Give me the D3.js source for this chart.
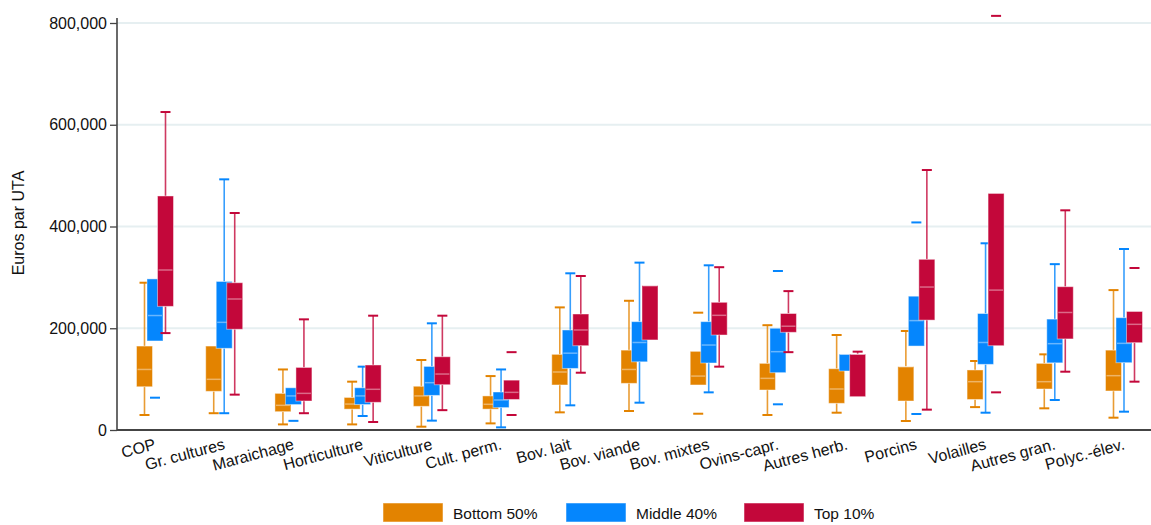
<!DOCTYPE html>
<html>
<head>
<meta charset="utf-8">
<script src="https://cdn.jsdelivr.net/npm/d3@7/dist/d3.min.js"></script>
<style>
  html, body { margin: 0; padding: 0; background: #fff; }
  svg { display: block; font-family: "Liberation Sans", Arial, sans-serif; }
</style>
</head>
<body>
<svg id="chart" width="1151" height="525"></svg>
<script>
// Farm types (OTEX)
const categories = ["COP", "Gr. cultures", "Maraichage", "Horticulture", "Viticulture",
  "Cult. perm.", "Bov. lait", "Bov. viande", "Bov. mixtes", "Ovins-capr.",
  "Autres herb.", "Porcins", "Volailles", "Autres gran.", "Polyc.-élev."];

const seriesNames = ["Bottom 50%", "Middle 40%", "Top 10%"];

// Box statistics in thousands of euros per UTA: [lower adjacent, Q1, median, Q3, upper adjacent]
const bottom50 = [
  [29.5, 85, 119, 165, 289.5], [33, 76, 99.6, 165, 165], [11, 36, 48.5, 72, 119],
  [11, 41, 51, 64, 95], [6.5, 46.5, 67, 86, 137.6], [13, 41, 50.5, 67, 106],
  [34.7, 88.5, 114, 148.7, 241], [37.3, 91.7, 119, 157, 254], [88.5, 88.5, 106, 154.6, 154.6],
  [29.5, 78.6, 101.5, 131, 206], [34, 52.4, 80.6, 120.5, 186.7], [17.7, 57, 124.5, 124.5, 194.6],
  [45, 60, 95, 118, 135.6], [42.6, 80.6, 95, 131, 148.7], [24.2, 76.7, 106.8, 157, 275]
];
const middle40 = [
  [175, 175, 225, 297, 297], [33, 160.5, 211.6, 292, 492.7], [50, 50, 67, 83, 83],
  [27.5, 50, 67, 83, 124.5], [18.4, 68, 93, 125, 209.7], [5.2, 44, 59, 74.7, 119],
  [48.5, 121, 151, 196.6, 308], [53.7, 134, 172, 213, 329], [74, 131.7, 167, 213, 323.7],
  [112.7, 112.7, 154, 200, 200], [116, 116, 149, 149, 149], [165, 165, 215, 263, 263],
  [34, 129, 172, 229, 367], [59, 132, 169.7, 218, 326], [36, 132.3, 170.3, 220.8, 355.8]
];
const top10 = [
  [190.5, 243, 314.5, 460, 625], [69.5, 198, 257.5, 289.5, 426.5], [33, 57, 72, 123, 217.5],
  [15.7, 54.4, 80, 127.8, 224.7], [39, 89, 110, 144, 224.7], [60, 60, 74, 98, 98],
  [112.6, 165.7, 196.6, 228, 302.7], [177, 177, 283.7, 283.7, 283.7], [124.5, 186.7, 225.4, 251, 320],
  [153, 192, 204, 229, 273], [65.5, 65.5, 149, 149, 154], [40, 216, 281, 335.5, 511],
  [165.7, 165.7, 275, 465, 465], [114.6, 179, 231, 281.7, 431.8], [95, 171.6, 207.7, 233, 233]
];

// Values outside the adjacent range (thousands of euros)
const bottom50Out = [[], [], [], [], [], [], [], [], [230.6, 32], [], [], [], [], [], []];
const middle40Out = [[63.5], [], [18], [], [], [], [], [], [], [312.5, 50.5], [], [408, 31.5], [], [], []];
const top10Out = [[], [], [], [], [], [153, 29.5], [], [], [], [], [], [], [814, 74], [], [318.4]];

const yTicks = [0, 200000, 400000, 600000, 800000];

const colors = ["#e38300", "#0586fd", "#c3073a"];
const series = [
  { name: seriesNames[0], stats: bottom50, out: bottom50Out, color: colors[0] },
  { name: seriesNames[1], stats: middle40, out: middle40Out, color: colors[1] },
  { name: seriesNames[2], stats: top10, out: top10Out, color: colors[2] }
];

const svg = d3.select("#chart");
const plot = { left: 117, right: 1151, top: 23, bottom: 430 };

const x = d3.scalePoint().domain(categories).range([155, 1124]);
const offset = d3.scalePoint().domain(seriesNames).range([-10.5, 10.5]);
const y = d3.scaleLinear().domain([0, 800000]).range([plot.bottom, plot.top]);
const boxW = 16, capW = 10;

// Horizontal grid
svg.append("g").selectAll("line").data(yTicks.filter(d => d > 0)).join("line")
  .attr("x1", plot.left).attr("x2", plot.right)
  .attr("y1", d => y(d)).attr("y2", d => y(d))
  .attr("stroke", "#e6eff1").attr("stroke-width", 2);

// Y axis
const yAxis = svg.append("g").attr("transform", `translate(${plot.left},0)`)
  .call(d3.axisLeft(y).tickValues(yTicks).tickFormat(d3.format(",")).tickSize(7).tickPadding(3));
yAxis.select(".domain").attr("stroke", "#444").attr("stroke-width", 1.6).attr("d", `M0,${plot.top - 5}V${plot.bottom}`);
yAxis.selectAll(".tick line").attr("stroke", "#444").attr("stroke-width", 1.3);
yAxis.selectAll(".tick text").attr("font-size", 16).attr("fill", "#111")
  .attr("font-family", "'Liberation Sans', Arial, sans-serif");

svg.append("text")
  .attr("transform", `translate(24,223) rotate(-90)`)
  .attr("text-anchor", "middle")
  .attr("font-size", 16).attr("fill", "#111")
  .text("Euros par UTA");

// Boxes
series.forEach(s => {
  const g = svg.append("g");
  const dx = offset(s.name);
  categories.forEach((c, i) => {
    const [lo, q1, med, q3, hi] = s.stats[i];
    const cx = x(c) + dx;
    const wg = g.append("g").attr("stroke", s.color).attr("stroke-width", 1.6);
    if (hi > q3) {
      wg.append("line").attr("x1", cx).attr("x2", cx).attr("y1", y(q3 * 1000)).attr("y2", y(hi * 1000)).attr("stroke-opacity", 0.8);
      wg.append("line").attr("x1", cx - capW / 2).attr("x2", cx + capW / 2).attr("y1", y(hi * 1000)).attr("y2", y(hi * 1000)).attr("stroke-width", 2);
    }
    if (lo < q1) {
      wg.append("line").attr("x1", cx).attr("x2", cx).attr("y1", y(q1 * 1000)).attr("y2", y(lo * 1000)).attr("stroke-opacity", 0.8);
      wg.append("line").attr("x1", cx - capW / 2).attr("x2", cx + capW / 2).attr("y1", y(lo * 1000)).attr("y2", y(lo * 1000)).attr("stroke-width", 2);
    }
    s.out[i].forEach(v => {
      wg.append("line").attr("x1", cx - capW / 2).attr("x2", cx + capW / 2)
        .attr("y1", y(v * 1000)).attr("y2", y(v * 1000)).attr("stroke-width", 2);
    });
    g.append("rect")
      .attr("x", cx - boxW / 2).attr("width", boxW)
      .attr("y", y(q3 * 1000)).attr("height", y(q1 * 1000) - y(q3 * 1000))
      .attr("fill", s.color)
      .attr("stroke", "rgba(255,255,255,0.45)").attr("stroke-width", 1);
    g.append("line")
      .attr("x1", cx - boxW / 2 + 1).attr("x2", cx + boxW / 2 - 1)
      .attr("y1", y(med * 1000)).attr("y2", y(med * 1000))
      .attr("stroke", "rgba(255,255,255,0.4)").attr("stroke-width", 1.5);
  });
});

// X axis
const xAxis = svg.append("g").attr("transform", `translate(0,${plot.bottom})`)
  .call(d3.axisBottom(x).tickSize(0).tickPadding(0));
xAxis.select(".domain").attr("stroke", "#444").attr("stroke-width", 2).attr("d", `M${plot.left},0H${plot.right}`);
xAxis.selectAll(".tick text")
  .attr("font-size", 16).attr("fill", "#111")
  .attr("font-family", "'Liberation Sans', Arial, sans-serif")
  .attr("text-anchor", "end")
  .attr("dy", null)
  .attr("y", 0)
  .attr("transform", "translate(1,19) rotate(-15)");

// Legend
const legend = svg.append("g");
const legendX = [383, 566, 744];
series.forEach((s, i) => {
  legend.append("rect").attr("x", legendX[i]).attr("y", 503).attr("width", 60).attr("height", 19)
    .attr("fill", s.color).attr("stroke", "rgba(255,255,255,0.5)").attr("stroke-width", 1);
  legend.append("text").attr("x", legendX[i] + 70).attr("y", 518.5)
    .attr("font-size", 15.5).attr("fill", "#111").text(s.name);
});
</script>
</body>
</html>
